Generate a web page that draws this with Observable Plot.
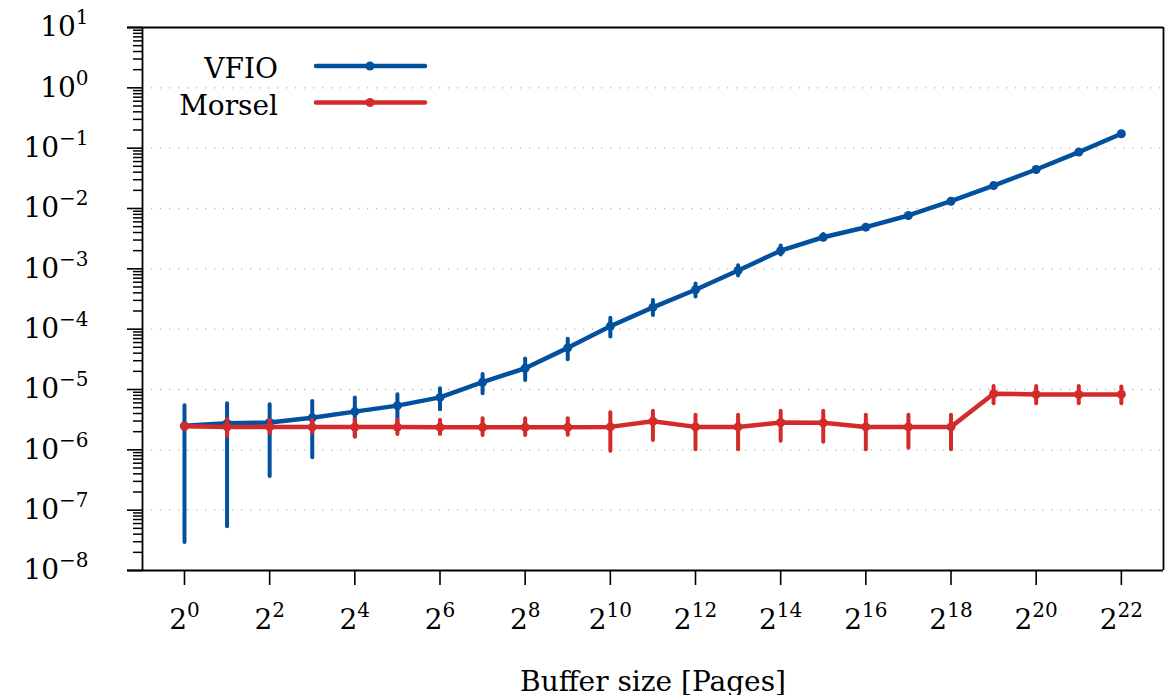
<!DOCTYPE html>
<html>
<head>
<meta charset="utf-8">
<script src="https://cdn.jsdelivr.net/npm/d3@7"></script>
<script src="https://cdn.jsdelivr.net/npm/@observablehq/plot@0.6"></script>
<style>
  html, body { margin: 0; padding: 0; background: #fff; }
  #wrap { position: relative; width: 1173px; height: 695px; }
  #legend { position: absolute; left: 0; top: 0; pointer-events: none; }
</style>
</head>
<body>
<div id="wrap"></div>
<script>
// ---- data ----
const exponents = [0,1,2,3,4,5,6,7,8,9,10,11,12,13,14,15,16,17,18,19,20,21,22];
const vfioMean = [2.5e-6, 2.75e-6, 2.85e-6, 3.4e-6, 4.3e-6, 5.4e-6, 7.4e-6, 1.32e-5, 2.25e-5, 4.9e-5, 1.12e-4, 2.3e-4, 4.5e-4, 9.4e-4, 2.0e-3, 3.34e-3, 4.9e-3, 7.66e-3, 1.32e-2, 2.4e-2, 4.43e-2, 8.6e-2, 1.73e-1];
const vfioLow  = [2.9e-8, 5.3e-8, 3.6e-7, 7.4e-7, 1.65e-6, 2.8e-6, 4.6e-6, 8.5e-6, 1.41e-5, 3.1e-5, 7.4e-5, 1.68e-4, 3.4e-4, 7.6e-4, 1.7e-3, 3.0e-3, 4.6e-3, 7.3e-3, 1.27e-2, 2.32e-2, 4.3e-2, 8.4e-2, 1.7e-1];
const vfioHigh = [5.4e-6, 5.8e-6, 5.6e-6, 6.3e-6, 7.2e-6, 8.2e-6, 1.03e-5, 1.77e-5, 3.2e-5, 6.8e-5, 1.52e-4, 3.0e-4, 5.6e-4, 1.13e-3, 2.4e-3, 3.7e-3, 5.2e-3, 8.0e-3, 1.37e-2, 2.48e-2, 4.56e-2, 8.8e-2, 1.76e-1];
const morselMean = [2.46e-6, 2.4e-6, 2.4e-6, 2.38e-6, 2.38e-6, 2.38e-6, 2.37e-6, 2.37e-6, 2.37e-6, 2.37e-6, 2.4e-6, 2.98e-6, 2.4e-6, 2.4e-6, 2.84e-6, 2.8e-6, 2.4e-6, 2.4e-6, 2.4e-6, 8.5e-6, 8.3e-6, 8.3e-6, 8.3e-6];
const morselLow  = [2.3e-6, 1.66e-6, 1.86e-6, 1.9e-6, 1.62e-6, 1.8e-6, 1.8e-6, 1.73e-6, 1.73e-6, 1.75e-6, 9.5e-7, 1.43e-6, 1.0e-6, 1.0e-6, 1.39e-6, 1.33e-6, 1.0e-6, 1.06e-6, 1.0e-6, 5.8e-6, 5.8e-6, 5.8e-6, 5.8e-6];
const morselHigh = [2.6e-6, 3.18e-6, 3.1e-6, 3.1e-6, 3.14e-6, 3.1e-6, 3.1e-6, 3.27e-6, 3.27e-6, 3.27e-6, 4.1e-6, 4.36e-6, 3.75e-6, 3.75e-6, 4.36e-6, 4.36e-6, 3.75e-6, 3.75e-6, 3.75e-6, 1.12e-5, 1.12e-5, 1.12e-5, 1.1e-5];
const seriesNames = ["VFIO", "Morsel"];
const seriesColors = ["#03519e", "#d42a2a"];
const xTickExponents = [0,2,4,6,8,10,12,14,16,18,20,22];
const yTickExponents = [-8,-7,-6,-5,-4,-3,-2,-1,0,1];
const xLabel = "Buffer size [Pages]";

// ---- build table ----
const rows = [];
[[vfioMean, vfioLow, vfioHigh], [morselMean, morselLow, morselHigh]].forEach(([m, lo, hi], s) => {
  exponents.forEach((e, i) => rows.push({series: seriesNames[s], pages: 2 ** e, value: m[i], low: lo[i], high: hi[i]}));
});
const vfio = rows.filter(d => d.series === "VFIO");
const morsel = rows.filter(d => d.series === "Morsel");

const xTicks = xTickExponents.map(e => 2 ** e);
const yTicks = yTickExponents.map(e => 10 ** e);
const yMinor = [];
for (let k = -8; k < 1; k++) for (let m = 2; m <= 9; m++) yMinor.push(m * 10 ** k);
const yGrid = yTicks.slice(1, -1);

const xmin = 2 ** -0.986, xmax = 2 ** 22.99;
const ymin = 1e-8, ymax = 1e1;
const minus = s => String(s).replace("-", "\u2212");
const FONT = "DejaVu Serif";

const series = (data, color) => [
  Plot.ruleX(data, {x: "pages", y1: "low", y2: "high", stroke: color, strokeWidth: 4, strokeLinecap: "round"}),
  Plot.line(data, {x: "pages", y: "value", stroke: color, strokeWidth: 4.5, strokeLinejoin: "round"}),
  Plot.dot(data, {x: "pages", y: "value", fill: color, r: 4.5})
];

const chart = Plot.plot({
  width: 1173,
  height: 695,
  marginLeft: 142,
  marginRight: 10,
  marginTop: 27,
  marginBottom: 125,
  style: {fontFamily: FONT, fontSize: "28px", background: "white", color: "black"},
  x: {type: "log", base: 2, domain: [xmin, xmax], label: null},
  y: {type: "log", domain: [ymin, ymax], label: null},
  marks: [
    Plot.gridY(yGrid, {stroke: "#b8b8b8", strokeOpacity: 1, strokeWidth: 1.3, strokeDasharray: "1.3 7.7"}),
    Plot.axisY(yMinor, {tickSize: 9, tickFormat: () => "", strokeWidth: 1.5, label: null}),
    Plot.axisY(yTicks, {tickSize: 15, tickPadding: 39, strokeWidth: 1.6, label: null,
      tickFormat: d => `10^${minus(Math.round(Math.log10(d)))}`, fontSize: 28, fontFamily: FONT}),
    Plot.axisX(xTicks, {tickSize: 15, tickPadding: 24, strokeWidth: 1.6, label: null,
      tickFormat: d => `2^${Math.round(Math.log2(d))}`, fontSize: 28, fontFamily: FONT}),
    Plot.ruleY([ymax], {stroke: "black", strokeWidth: 1.8, insetLeft: -15}),
    Plot.ruleY([ymin], {stroke: "black", strokeWidth: 1.8, insetLeft: -15}),
    Plot.ruleX([xmin], {stroke: "black", strokeWidth: 1.8}),
    Plot.ruleX([xmax], {stroke: "black", strokeWidth: 1.8}),
    ...series(vfio, seriesColors[0]),
    ...series(morsel, seriesColors[1]),
    Plot.text([xLabel], {frameAnchor: "bottom", dy: 120, fontSize: 28, fontFamily: FONT, fill: "black"})
  ]
});

// superscript post-processing of tick labels
d3.select(chart).selectAll("text").each(function () {
  const t = this.textContent;
  const m = /^(\d+)\^(.+)$/.exec(t);
  if (!m) return;
  const sel = d3.select(this);
  sel.text(null);
  sel.append("tspan").text(m[1]);
  sel.append("tspan").attr("dy", -12).attr("font-size", 20).text(m[2]);
});

document.getElementById("wrap").appendChild(chart);

// legend overlay
const leg = d3.select("#wrap").append("svg").attr("id", "legend")
  .attr("width", 1173).attr("height", 695)
  .style("font-family", FONT).style("font-size", "28px");
seriesNames.forEach((name, i) => {
  const y = [66, 102.5][i];
  leg.append("text").attr("x", 278).attr("y", y + 12).attr("text-anchor", "end").attr("fill", "black").text(name);
  leg.append("line").attr("x1", 316).attr("x2", 425).attr("y1", y).attr("y2", y)
    .attr("stroke", seriesColors[i]).attr("stroke-width", 4.5).attr("stroke-linecap", "round");
  leg.append("circle").attr("cx", 370).attr("cy", y).attr("r", 4.5).attr("fill", seriesColors[i]);
});
</script>
</body>
</html>
